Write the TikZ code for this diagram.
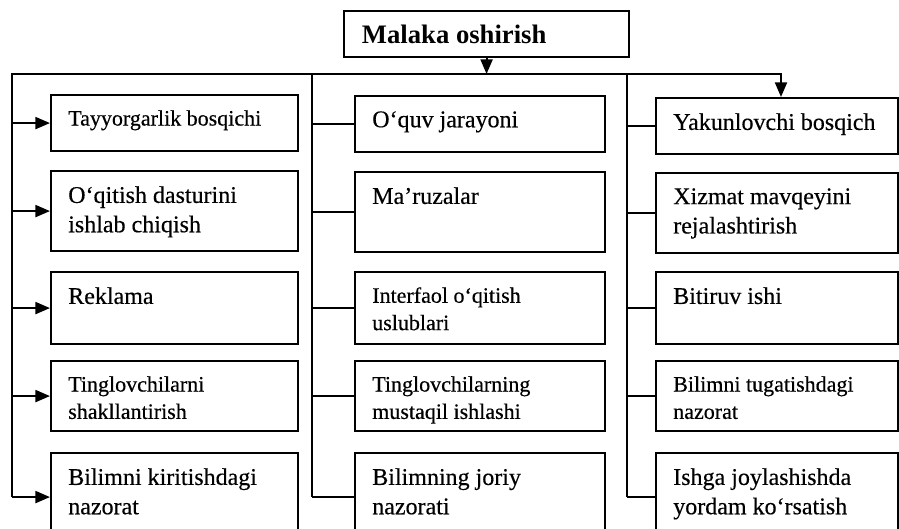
\documentclass[tikz,border=0pt]{standalone}
\usepackage{fontspec}
\setmainfont{Liberation Serif}[UprightFeatures={FakeBold=0.4}]
\usetikzlibrary{arrows.meta,positioning,calc}

\tikzset{
  blok/.style={draw, line width=1.6pt, anchor=north west, inner sep=0pt},
  matn/.style={anchor=north west, align=left, inner xsep=13.5pt, inner ysep=12pt,
    font=\fontsize{18}{22}\selectfont},
  kichik/.style={font=\fontsize{16.5}{20.5}\selectfont},
  chiziq/.style={line width=1.6pt},
  strelka/.style={line width=1.6pt, -{Triangle[length=11pt,width=9pt]}},
}

\begin{document}
\begin{tikzpicture}[x=0.75pt, y=-0.75pt]
		\useasboundingbox (0,0) rectangle (899,528);
		\clip (0,0) rectangle (899,528);

		% title
		\node[blok, minimum width=213.75pt, minimum height=34.5pt] (title) at (343,10) {};
		\node[anchor=west, inner xsep=14pt, font=\fontsize{20}{24}\selectfont\bfseries] (titlet) at (title.west) {Malaka oshirish};

		% left column
		\node[blok, minimum width=185.25pt, minimum height=42pt] (l1) at (50,94) {};
		\node[blok, minimum width=185.25pt, minimum height=60pt] (l2) at (50,170) {};
		\node[blok, minimum width=185.25pt, minimum height=54pt] (l3) at (50,271) {};
		\node[blok, minimum width=185.25pt, minimum height=52.5pt] (l4) at (50,360) {};
		\node[blok, minimum width=185.25pt, minimum height=66pt] (l5) at (50,452) {};
		\node[matn, kichik] (l1t) at (l1.north west) {Tayyorgarlik bosqichi};
		\node[matn] (l2t) at (l2.north west) {O‘qitish dasturini\\ishlab chiqish};
		\node[matn] (l3t) at (l3.north west) {Reklama};
		\node[matn, kichik] (l4t) at (l4.north west) {Tinglovchilarni\\shakllantirish};
		\node[matn] (l5t) at (l5.north west) {Bilimni kiritishdagi\\nazorat};

		% middle column
		\node[blok, minimum width=187.5pt, minimum height=42pt] (m1) at (354,95) {};
		\node[blok, minimum width=187.5pt, minimum height=60pt] (m2) at (354,171) {};
		\node[blok, minimum width=187.5pt, minimum height=54pt] (m3) at (354,271) {};
		\node[blok, minimum width=187.5pt, minimum height=52.5pt] (m4) at (354,360) {};
		\node[blok, minimum width=187.5pt, minimum height=66pt] (m5) at (354,452) {};
		\node[matn] (m1t) at (m1.north west) {O‘quv jarayoni};
		\node[matn] (m2t) at (m2.north west) {Ma’ruzalar};
		\node[matn, kichik] (m3t) at (m3.north west) {Interfaol o‘qitish\\uslublari};
		\node[matn, kichik] (m4t) at (m4.north west) {Tinglovchilarning\\mustaqil ishlashi};
		\node[matn] (m5t) at (m5.north west) {Bilimning joriy\\nazorati};

		% right column
		\node[blok, minimum width=181.5pt, minimum height=42pt] (r1) at (655,97) {};
		\node[blok, minimum width=181.5pt, minimum height=60pt] (r2) at (655,172) {};
		\node[blok, minimum width=181.5pt, minimum height=54pt] (r3) at (655,271) {};
		\node[blok, minimum width=181.5pt, minimum height=52.5pt] (r4) at (655,360) {};
		\node[blok, minimum width=181.5pt, minimum height=66pt] (r5) at (655,452) {};
		\node[matn] (r1t) at (r1.north west) {Yakunlovchi bosqich};
		\node[matn] (r2t) at (r2.north west) {Xizmat mavqeyini\\rejalashtirish};
		\node[matn] (r3t) at (r3.north west) {Bitiruv ishi};
		\node[matn, kichik] (r4t) at (r4.north west) {Bilimni tugatishdagi\\nazorat};
		\node[matn] (r5t) at (r5.north west) {Ishga joylashishda\\yordam ko‘rsatish};

		% connectors
		\coordinate (busL) at (12,74);
		\coordinate (busM) at (312,74);
		\coordinate (busN) at (627,74);
		\coordinate (busR) at (781,74);

		\draw[strelka] (title) -- (title |- busL);
		\draw[strelka] (busL |- l5.west) -- (busL) -- (busR) -- (busR |- r1.north);
		\draw[chiziq] (busM) -- (busM |- m5.west);
		\draw[chiziq] (busN) -- (busN |- r5.west);
		\foreach \i in {1,...,5} {
			\draw[strelka] (busL |- l\i.west) -- (l\i.west);
			\draw[chiziq] (busM |- m\i.west) -- (m\i.west);
			\draw[chiziq] (busN |- r\i.west) -- (r\i.west);
		}
\end{tikzpicture}
\end{document}
